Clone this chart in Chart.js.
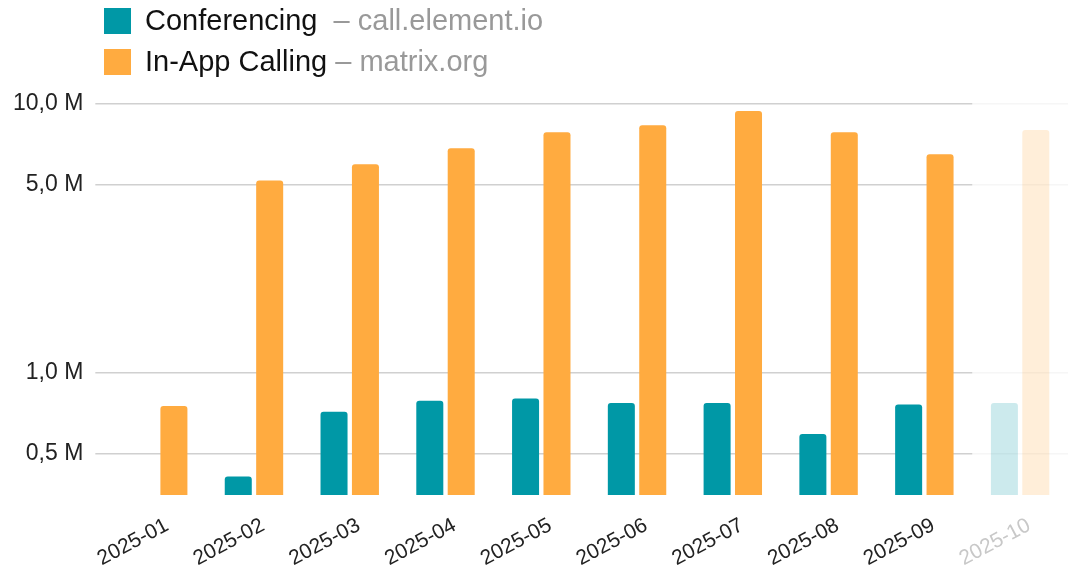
<!DOCTYPE html>
<html>
<head>
<meta charset="utf-8">
<script src="https://cdn.jsdelivr.net/npm/chart.js@4"></script>
<style>
  html, body { margin: 0; padding: 0; background: #fff; overflow: hidden; }
  #wrap { position: relative; width: 1072px; height: 570px; }
  #legend { position: absolute; left: 104px; top: 0px; font-family: "Liberation Sans", Arial, sans-serif; font-size: 29px; }
  #legend .row { display: flex; align-items: center; height: 41px; white-space: pre; }
  #legend .box { width: 27px; height: 26px; margin-right: 14px; }
  #legend .name { color: #111; }
  #legend .host { color: #999; }
</style>
</head>
<body>
<div id="wrap">
  <canvas id="callsChart" width="1072" height="570"></canvas>
  <div id="legend"></div>
</div>
<script>
// Monthly calls, log scale
const months = ["2025-01", "2025-02", "2025-03", "2025-04", "2025-05", "2025-06", "2025-07", "2025-08", "2025-09", "2025-10"];
const conferencing = [null, 410000, 715000, 785000, 800000, 770000, 770000, 590000, 760000, 770000];
const inAppCalling = [750000, 5190000, 5960000, 6840000, 7850000, 8340000, 9420000, 7850000, 6500000, 8000000];
const yTicks = [500000, 1000000, 5000000, 10000000];
const seriesNames = ["Conferencing", "In-App Calling"];
const seriesHosts = ["  \u2013 call.element.io", " \u2013 matrix.org"];

const teal = "#0098a6";
const orange = "#ffab40";
const lastIdx = months.length - 1; // current month, still partial

function fadeLast(color, faded) {
  return months.map((m, i) => i === lastIdx ? faded : color);
}

// html legend, two tone text
const legendEl = document.getElementById("legend");
[teal, orange].forEach((c, i) => {
  const row = document.createElement("div");
  row.className = "row";
  row.innerHTML = '<span class="box" style="background:' + c + '"></span>' +
    '<span class="name">' + seriesNames[i] + '</span><span class="host">' + seriesHosts[i] + '</span>';
  legendEl.appendChild(row);
});

// washes out gridlines behind the partial month
const fadeColumn = {
  id: "fadeColumn",
  beforeDatasetsDraw(chart) {
    const x = chart.scales.x, area = chart.chartArea, ctx = chart.ctx;
    const w = x.getPixelForValue(1) - x.getPixelForValue(0);
    const left = x.getPixelForValue(lastIdx) - w / 2;
    ctx.save();
    ctx.fillStyle = "rgba(255,255,255,0.8)";
    ctx.fillRect(left, area.top - 2, w, area.bottom - area.top + 4);
    ctx.restore();
  }
};

new Chart(document.getElementById("callsChart"), {
  type: 'bar',
  data: {
    labels: months,
    datasets: [{
      label: seriesNames[0],
      data: conferencing,
      backgroundColor: fadeLast(teal, "rgba(0,152,166,0.2)"),
      borderRadius: 3,
      categoryPercentage: 0.656,
      barPercentage: 0.86
    }, {
      label: seriesNames[1],
      data: inAppCalling,
      backgroundColor: fadeLast(orange, "rgba(255,171,64,0.2)"),
      borderRadius: 3,
      categoryPercentage: 0.656,
      barPercentage: 0.86
    }]
  },
  plugins: [fadeColumn],
  options: {
    responsive: false,
    animation: false,
    layout: {
      padding: { top: 104, left: 1, right: 4, bottom: 0 }
    },
    plugins: {
      legend: { display: false },
      tooltip: { enabled: false }
    },
    scales: {
      x: {
        grid: { display: false },
        border: { display: false },
        afterFit: function(axis) {
          axis.height = 75;
        },
        ticks: {
          minRotation: 28,
          maxRotation: 28,
          padding: 10,
          labelOffset: 9,
          color: function(ctx) {
            return ctx.index === lastIdx ? "#c8c8c8" : "#222";
          },
          font: { family: "Liberation Sans, Arial, sans-serif", size: 21 }
        }
      },
      y: {
        type: 'logarithmic',
        min: 350000,
        max: 10000000,
        border: { display: false },
        grid: {
          color: "#d0d0d0",
          lineWidth: 1.5,
          drawTicks: true,
          tickLength: 15,
          tickColor: "#d0d0d0"
        },
        afterBuildTicks: function(axis) {
          axis.ticks = yTicks.map(v => ({ value: v }));
        },
        ticks: {
          padding: 12,
          color: "#222",
          font: { family: "Liberation Sans, Arial, sans-serif", size: 23 },
          callback: function(value) {
            return (value / 1e6).toFixed(1).replace('.', ',') + ' M';
          }
        }
      }
    }
  }
});
</script>
</body>
</html>
